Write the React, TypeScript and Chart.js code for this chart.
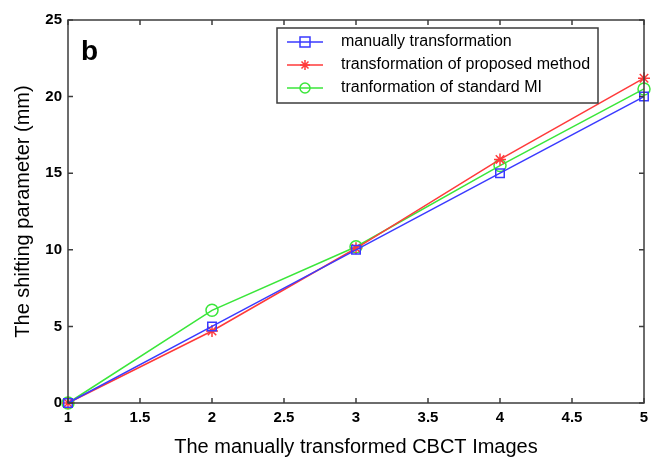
import React, { useEffect, useRef } from "react";
import { Chart, registerables } from "chart.js";

Chart.register(...registerables);

const xValues = [1, 2, 3, 4, 5];
const manualValues = [0, 5, 10, 15, 20];
const proposedValues = [0, 4.7, 10.1, 15.9, 21.2];
const standardMIValues = [0, 6.05, 10.2, 15.5, 20.5];
const seriesLabels = [
  "manually transformation",
  "transformation of proposed method",
  "tranformation of standard MI",
];
const seriesColors = ["#3a3aff", "#ff3a3a", "#3ae63a"];
const seriesMarkers = ["rect", "star", "circle"];

const frameColor = "#3c3c3c";
const fontFamily = "Arial, 'Liberation Sans', sans-serif";

function drawMarker(ctx: any, style: string, x: number, y: number, color: string) {
  ctx.save();
  ctx.strokeStyle = color;
  ctx.lineWidth = 1.5;
  const r = 5;
  ctx.beginPath();
  if (style === "rect") {
    ctx.rect(x - r, y - r, 2 * r, 2 * r);
  } else if (style === "circle") {
    ctx.arc(x, y, r, 0, Math.PI * 2);
  } else {
    ctx.moveTo(x - r, y);
    ctx.lineTo(x + r, y);
    ctx.moveTo(x, y - r);
    ctx.lineTo(x, y + r);
    const d = r * 0.7;
    ctx.moveTo(x - d, y - d);
    ctx.lineTo(x + d, y + d);
    ctx.moveTo(x - d, y + d);
    ctx.lineTo(x + d, y - d);
  }
  ctx.stroke();
  ctx.restore();
}

const framePlugin = {
  id: "frameAndLegend",
  afterDraw(chart: any) {
    const { ctx, chartArea } = chart;
    const { left, right, top, bottom } = chartArea;
    const xs = chart.scales.x;
    const ys = chart.scales.y;
    ctx.save();
    ctx.strokeStyle = frameColor;
    ctx.lineWidth = 1.5;
    ctx.strokeRect(left, top, right - left, bottom - top);
    const tl = 5;
    ctx.beginPath();
    xs.ticks.forEach((t: any) => {
      const px = xs.getPixelForValue(t.value);
      ctx.moveTo(px, bottom);
      ctx.lineTo(px, bottom - tl);
      ctx.moveTo(px, top);
      ctx.lineTo(px, top + tl);
    });
    ys.ticks.forEach((t: any) => {
      const py = ys.getPixelForValue(t.value);
      ctx.moveTo(left, py);
      ctx.lineTo(left + tl, py);
      ctx.moveTo(right, py);
      ctx.lineTo(right - tl, py);
    });
    ctx.stroke();

    ctx.fillStyle = "#000";
    ctx.font = `bold 28px ${fontFamily}`;
    ctx.textBaseline = "alphabetic";
    ctx.textAlign = "left";
    ctx.fillText("b", left + 13, top + 40);

    const bx = 277, by = 28, bw = 321, bh = 75;
    ctx.fillStyle = "#fff";
    ctx.fillRect(bx, by, bw, bh);
    ctx.strokeStyle = frameColor;
    ctx.lineWidth = 1.5;
    ctx.strokeRect(bx, by, bw, bh);
    const rowY = [42, 65, 88];
    chart.data.datasets.forEach((ds: any, i: number) => {
      const y = rowY[i];
      ctx.strokeStyle = ds.borderColor;
      ctx.lineWidth = 1.5;
      ctx.beginPath();
      ctx.moveTo(287, y);
      ctx.lineTo(323, y);
      ctx.stroke();
      drawMarker(ctx, ds.pointStyle, 305, y, ds.borderColor);
      ctx.fillStyle = "#000";
      ctx.font = `16px ${fontFamily}`;
      ctx.textBaseline = "middle";
      ctx.fillText(ds.label, 341, y);
    });
    ctx.restore();
  },
};

export default function App() {
  const ref = useRef<HTMLCanvasElement>(null);
  useEffect(() => {
    document.body.style.margin = "0";
    const allSeries = [manualValues, proposedValues, standardMIValues];
    const chart = new Chart(ref.current as HTMLCanvasElement, {
      type: "line",
      data: {
        datasets: allSeries.map((vals, i) => ({
          label: seriesLabels[i],
          data: xValues.map((x, j) => ({ x, y: vals[j] })),
          borderColor: seriesColors[i],
          backgroundColor: "rgba(0,0,0,0)",
          pointStyle: seriesMarkers[i] as any,
          pointRadius: 6,
          pointBorderWidth: 1.5,
          pointBackgroundColor: "rgba(0,0,0,0)",
          pointBorderColor: seriesColors[i],
          borderWidth: 1.5,
          tension: 0,
          clip: false as any,
        })),
      },
      options: {
        animation: false,
        responsive: false,
        layout: { padding: { left: 0, right: 20, top: 20, bottom: 0 } },
        plugins: { legend: { display: false }, tooltip: { enabled: false } },
        scales: {
          x: {
            type: "linear",
            min: 1,
            max: 5,
            ticks: {
              stepSize: 0.5,
              padding: 6,
              color: "#000",
              callback: (v: any) => String(Number(v)),
              font: { family: fontFamily, size: 15, weight: "bold" },
            },
            grid: { display: false, drawTicks: false },
            border: { display: false },
            title: {
              display: true,
              text: "The manually transformed CBCT Images",
              color: "#000",
              font: { family: fontFamily, size: 20 },
              padding: { top: 4, bottom: 0 },
            },
            afterFit: (s: any) => {
              s.height = 56;
            },
          },
          y: {
            type: "linear",
            min: 0,
            max: 25,
            ticks: {
              stepSize: 5,
              padding: 6,
              color: "#000",
              font: { family: fontFamily, size: 15, weight: "bold" },
            },
            grid: { display: false, drawTicks: false },
            border: { display: false },
            title: {
              display: true,
              text: "The shifting parameter (mm)",
              color: "#000",
              font: { family: fontFamily, size: 20 },
              padding: { top: 11, bottom: 0 },
            },
            afterFit: (s: any) => {
              s.width = 68;
            },
          },
        },
      },
      plugins: [framePlugin],
    });
    return () => chart.destroy();
  }, []);
  return (
    <div style={{ position: "absolute", left: 0, top: 0, width: 664, height: 459, background: "#fff" }}>
      <canvas ref={ref} width={664} height={459} style={{ display: "block", width: 664, height: 459 }} />
    </div>
  );
}
